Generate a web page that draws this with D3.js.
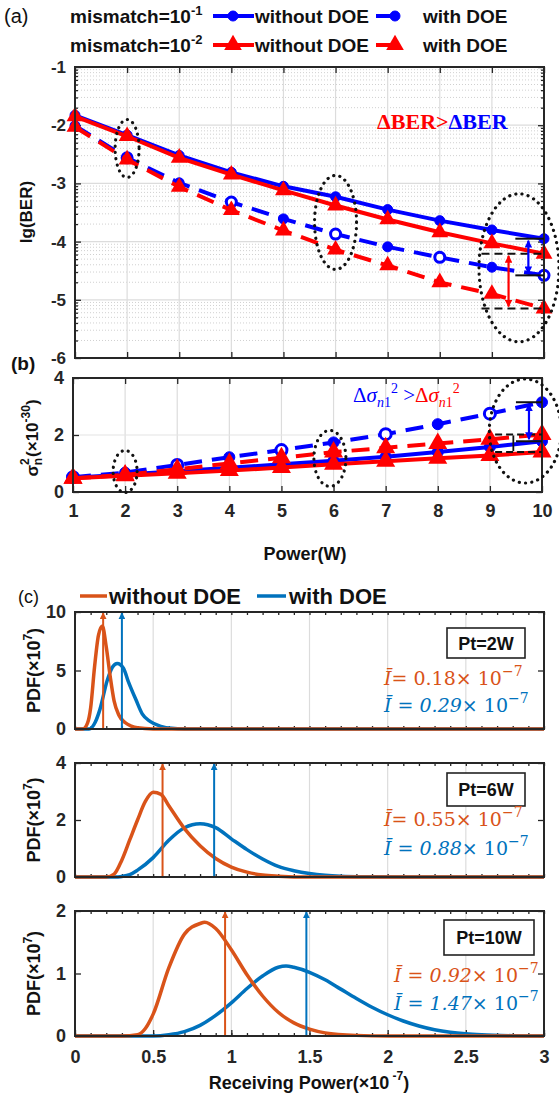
<!DOCTYPE html>
<html>
<head>
<meta charset="utf-8">
<title>BER, noise variance and received power PDF</title>
<script src="https://d3js.org/d3.v7.min.js"></script>
<style>
  body { margin: 0; background: white; }
  svg { display: block; background: white; }
  .tick text { font-family: "Liberation Sans", Arial, sans-serif; font-weight: bold; font-size: 17px; fill: #262626; }
  .tick line { stroke: #262626; stroke-width: 1.3; }
  .domain { display: none; }
</style>
</head>
<body>
<script>
// ---------- data ----------
var power = [1, 2, 3, 4, 5, 6, 7, 8, 9, 10];

// (a) lg(BER)
var berBlueNoDoe = [-1.83, -2.17, -2.52, -2.81, -3.05, -3.23, -3.45, -3.64, -3.80, -3.95];
var berBlueDoe   = [-2.01, -2.56, -2.99, -3.32, -3.61, -3.87, -4.09, -4.27, -4.44, -4.58];
var berRedNoDoe  = [-1.85, -2.19, -2.56, -2.85, -3.12, -3.38, -3.62, -3.84, -4.03, -4.21];
var berRedDoe    = [-2.03, -2.59, -3.06, -3.46, -3.81, -4.14, -4.41, -4.70, -4.90, -5.15];

// (b) sigma_n^2 (x1e-30)
var sigBlueNoDoe = [0.50, 0.61, 0.73, 0.85, 0.97, 1.10, 1.24, 1.40, 1.58, 1.78];
var sigBlueDoe   = [0.52, 0.68, 0.95, 1.22, 1.47, 1.74, 2.03, 2.38, 2.75, 3.15];
var sigRedNoDoe  = [0.48, 0.57, 0.66, 0.75, 0.86, 0.97, 1.08, 1.18, 1.28, 1.40];
var sigRedDoe    = [0.48, 0.60, 0.80, 1.00, 1.20, 1.40, 1.55, 1.70, 1.85, 2.02];

// (c) PDF curves, receiving power (x1e-7) vs PDF (x1e7)
var pt2OrangeX = [0, 0.05, 0.08, 0.1, 0.125, 0.15, 0.175, 0.2, 0.225, 0.25, 0.28, 0.32, 0.36, 0.4, 0.5, 0.6, 3];
var pt2OrangeY = [0, 0, 0.5, 1.8, 5.3, 8.0, 8.8, 7.0, 4.5, 2.4, 1.2, 0.55, 0.25, 0.1, 0.01, 0, 0];
var pt2BlueX   = [0, 0.09, 0.13, 0.16, 0.205, 0.24, 0.27, 0.31, 0.34, 0.39, 0.43, 0.48, 0.55, 0.62, 0.7, 0.8, 3];
var pt2BlueY   = [0, 0, 0.6, 1.7, 4.1, 5.3, 5.6, 5.2, 4.1, 2.5, 1.3, 0.65, 0.23, 0.06, 0.01, 0, 0];

var pt6OrangeX = [0, 0.2, 0.25, 0.3, 0.35, 0.4, 0.45, 0.5, 0.55, 0.6, 0.7, 0.8, 0.9, 1.0, 1.1, 1.2, 1.3, 1.5, 3];
var pt6OrangeY = [0, 0, 0.1, 0.6, 1.3, 2.0, 2.65, 2.97, 2.9, 2.5, 1.7, 1.1, 0.65, 0.35, 0.17, 0.07, 0.03, 0, 0];
var pt6BlueX   = [0, 0.25, 0.3, 0.35, 0.4, 0.5, 0.6, 0.7, 0.8, 0.9, 1.0, 1.1, 1.2, 1.3, 1.4, 1.5, 1.6, 1.7, 1.9, 2.1, 3];
var pt6BlueY   = [0, 0, 0.02, 0.08, 0.24, 0.68, 1.29, 1.73, 1.87, 1.73, 1.34, 0.96, 0.63, 0.37, 0.22, 0.12, 0.06, 0.03, 0.01, 0, 0];

var pt10OrangeX = [0, 0.3, 0.4, 0.45, 0.5, 0.6, 0.7, 0.8, 0.83, 0.9, 1.0, 1.1, 1.2, 1.3, 1.4, 1.5, 1.6, 1.8, 2.0, 3];
var pt10OrangeY = [0, 0, 0.02, 0.12, 0.35, 1.09, 1.63, 1.80, 1.82, 1.72, 1.38, 0.98, 0.64, 0.38, 0.21, 0.11, 0.05, 0.01, 0, 0];
var pt10BlueX   = [0, 0.5, 0.6, 0.7, 0.8, 0.9, 1.0, 1.1, 1.2, 1.3, 1.35, 1.4, 1.5, 1.6, 1.7, 1.8, 1.9, 2.0, 2.1, 2.2, 2.3, 2.4, 2.5, 2.6, 2.8, 3];
var pt10BlueY   = [0, 0, 0.02, 0.07, 0.17, 0.33, 0.53, 0.76, 0.96, 1.1, 1.12, 1.1, 1.02, 0.9, 0.75, 0.6, 0.46, 0.34, 0.24, 0.16, 0.1, 0.06, 0.035, 0.02, 0.005, 0];

// mean received power (arrows)
var meanOrange = [0.18, 0.56, 0.96];
var meanBlue   = [0.30, 0.89, 1.48];
var meanOrangeLabel = ["0.18", "0.55", "0.92"];
var meanBlueLabel   = ["0.29", "0.88", "1.47"];
var ptLabels = ["Pt=2W", "Pt=6W", "Pt=10W"];

// ---------- setup ----------
var FONT = "'Liberation Sans', Arial, sans-serif";
var SERIF = "'Liberation Serif', 'Times New Roman', serif";
var MATH = "'DejaVu Serif', 'Liberation Serif', serif";
var AX = "#262626";
var BLUE = "#0000ff", RED = "#ff0000", ORANGE = "#d95319", CBLUE = "#0072bd";

var svg = d3.select("body").append("svg").attr("width", 559).attr("height", 1095);
var defs = svg.append("defs");

function arrowDef(id, color) {
  defs.append("marker").attr("id", id)
    .attr("viewBox", "0 0 10 10").attr("refX", 9).attr("refY", 5)
    .attr("markerWidth", 3.5).attr("markerHeight", 3.5)
    .attr("orient", "auto-start-reverse")
    .append("path").attr("d", "M0,0 L10,5 L0,10 z").attr("fill", color);
}
arrowDef("arBlue", BLUE); arrowDef("arRed", RED);
arrowDef("arOrange", ORANGE); arrowDef("arCBlue", CBLUE);

// text with sub/superscript pieces
function addText(g, x, y, parts, o) {
  o = o || {};
  var t = g.append("text").attr("x", x).attr("y", y)
    .attr("font-family", o.family || FONT).attr("font-size", o.size || 17)
    .attr("font-weight", o.weight || "bold").attr("fill", o.fill || AX)
    .attr("text-anchor", o.anchor || "start");
  if (o.transform) t.attr("transform", o.transform);
  var shift = 0;
  parts.forEach(function(p) {
    if (typeof p === "string") p = {t: p};
    var s = t.append("tspan").text(p.t);
    var want = p.dy || 0;
    if (want !== shift) { s.attr("dy", want - shift); shift = want; }
    if (p.dx) s.attr("dx", p.dx);
    if (p.size) s.attr("font-size", p.size);
    if (p.fill) s.attr("fill", p.fill);
    if (p.italic) s.attr("font-style", "italic");
    if (p.family) s.attr("font-family", p.family);
    if (p.weight) s.attr("font-weight", p.weight);
  });
  return t;
}

function marker(g, type, x, y, color, size, hollow) {
  if (type === "circle") {
    g.append("circle").attr("cx", x).attr("cy", y).attr("r", size)
      .attr("fill", hollow ? "white" : color).attr("stroke", color)
      .attr("stroke-width", hollow ? 3 : 1);
  } else {
    g.append("path").attr("d", d3.symbol(d3.symbolTriangle, size * size * 3.2)())
      .attr("transform", "translate(" + x + "," + y + ")").attr("fill", color);
  }
}

function series(g, xs, ys, vals, color, dashed, type, msize, hollowTest) {
  var line = d3.line().x(function(d, i) { return xs(power[i]); }).y(function(d) { return ys(d); });
  g.append("path").datum(vals).attr("d", line).attr("fill", "none")
    .attr("stroke", color).attr("stroke-width", 4)
    .attr("stroke-dasharray", dashed ? "18,10" : null);
  vals.forEach(function(v, i) {
    marker(g, type, xs(power[i]), ys(v), color, msize, hollowTest ? hollowTest(power[i]) : false);
  });
}

function ring(g, cx, cy, rx, ry) {
  g.append("ellipse").attr("cx", cx).attr("cy", cy).attr("rx", rx).attr("ry", ry)
    .attr("fill", "none").attr("stroke", "#111").attr("stroke-width", 3.2)
    .attr("stroke-linecap", "round").attr("stroke-dasharray", "0.1,6.2");
}

// ---------- panel (a) ----------
var xA = d3.scaleLinear().domain([1, 10]).range([75, 544]);
var yA = d3.scaleLinear().domain([-6, -1]).range([358, 67]);
var gA = svg.append("g");

// minor grid (log-style subdivisions of each decade)
var minorA = [];
for (var d = -6; d < -1; d++) for (var k = 2; k <= 9; k++) minorA.push(d + Math.log10(k));
gA.selectAll(".minA").data(minorA).enter().append("line")
  .attr("x1", xA(1)).attr("x2", xA(10)).attr("y1", yA).attr("y2", yA)
  .attr("stroke", "#d0d0d0").attr("stroke-width", 1).attr("stroke-dasharray", "1,2");
gA.selectAll(".gyA").data([-5, -4, -3, -2]).enter().append("line")
  .attr("x1", xA(1)).attr("x2", xA(10)).attr("y1", yA).attr("y2", yA)
  .attr("stroke", "#dcdcdc").attr("stroke-width", 1.2);
gA.selectAll(".gxA").data(power.slice(1, 9)).enter().append("line")
  .attr("x1", xA).attr("x2", xA).attr("y1", yA(-6)).attr("y2", yA(-1))
  .attr("stroke", "#dcdcdc").attr("stroke-width", 1.2);

gA.append("g").attr("transform", "translate(" + xA(1) + ",0)")
  .call(d3.axisLeft(yA).tickValues([-6, -5, -4, -3, -2, -1]).tickFormat(String)
    .tickSizeInner(-6).tickSizeOuter(0).tickPadding(9));
gA.append("g").attr("transform", "translate(" + xA(1) + ",0)")
  .call(d3.axisLeft(yA).tickValues(minorA).tickFormat("").tickSizeInner(-3).tickSizeOuter(0));
gA.append("g").attr("transform", "translate(" + xA(10) + ",0)")
  .call(d3.axisRight(yA).tickValues([-6, -5, -4, -3, -2, -1]).tickFormat("").tickSizeInner(-6).tickSizeOuter(0));
gA.append("g").attr("transform", "translate(" + xA(10) + ",0)")
  .call(d3.axisRight(yA).tickValues(minorA).tickFormat("").tickSizeInner(-3).tickSizeOuter(0));
gA.append("g").attr("transform", "translate(0," + yA(-1) + ")")
  .call(d3.axisTop(xA).tickValues(power).tickFormat("").tickSizeInner(-6).tickSizeOuter(0));
gA.append("g").attr("transform", "translate(0," + yA(-6) + ")")
  .call(d3.axisBottom(xA).tickValues(power).tickFormat("").tickSizeInner(-6).tickSizeOuter(0));

series(gA, xA, yA, berBlueNoDoe, BLUE, false, "circle", 5);
series(gA, xA, yA, berBlueDoe, BLUE, true, "circle", 5, function(p) { return p % 2 === 0; });
series(gA, xA, yA, berRedNoDoe, RED, false, "tri", 6.2);
series(gA, xA, yA, berRedDoe, RED, true, "tri", 6.2);

gA.append("rect").attr("x", xA(1)).attr("y", yA(-1))
  .attr("width", xA(10) - xA(1)).attr("height", yA(-6) - yA(-1))
  .attr("fill", "none").attr("stroke", AX).attr("stroke-width", 2);

// bracket lines and double arrows at P = 10
gA.selectAll(".hbA").data([berBlueNoDoe[9], berBlueDoe[9]]).enter().append("line")
  .attr("x1", xA(9.45)).attr("x2", xA(10)).attr("y1", yA).attr("y2", yA)
  .attr("stroke", "#111").attr("stroke-width", 2);
gA.selectAll(".hrA").data([berRedNoDoe[9], berRedDoe[9]]).enter().append("line")
  .attr("x1", xA(8.8)).attr("x2", xA(10)).attr("y1", yA).attr("y2", yA)
  .attr("stroke", "#111").attr("stroke-width", 2).attr("stroke-dasharray", "8,5");
gA.append("line").attr("x1", xA(9.7)).attr("x2", xA(9.7))
  .attr("y1", yA(berBlueNoDoe[9]) + 2).attr("y2", yA(berBlueDoe[9]) - 2)
  .attr("stroke", BLUE).attr("stroke-width", 2.2)
  .attr("marker-start", "url(#arBlue)").attr("marker-end", "url(#arBlue)");
gA.append("line").attr("x1", xA(9.32)).attr("x2", xA(9.32))
  .attr("y1", yA(berRedNoDoe[9]) + 2).attr("y2", yA(berRedDoe[9]) - 2)
  .attr("stroke", RED).attr("stroke-width", 2.2)
  .attr("marker-start", "url(#arRed)").attr("marker-end", "url(#arRed)");

ring(gA, xA(2), yA(-2.40), 12, 29);
ring(gA, xA(6), yA(-3.67), 21, 47);
ring(gA, xA(9.52), yA(-4.45), 40, 74);

addText(gA, 377, 129, [{t: "ΔBER>", fill: RED}, {t: "ΔBER", fill: BLUE}],
  {family: SERIF, size: 22});

// legend (a)
addText(svg, 4, 23, ["(a)"], {size: 20, weight: "normal", fill: "#111"});
var legRows = [
  {label: "10", sup: "-1", color: BLUE, type: "circle", y: 16},
  {label: "10", sup: "-2", color: RED, type: "tri", y: 45}
];
legRows.forEach(function(r) {
  addText(svg, 70, r.y + 7, ["mismatch=" + r.label, {t: r.sup, dy: -8, size: 13}],
    {size: 19, fill: "#111"});
  svg.append("line").attr("x1", 213).attr("x2", 254).attr("y1", r.y).attr("y2", r.y)
    .attr("stroke", r.color).attr("stroke-width", 4);
  marker(svg, r.type, 233, r.y, r.color, r.type === "circle" ? 5 : 6.5);
  addText(svg, 255, r.y + 7, ["without DOE"], {size: 19, fill: "#111"});
  svg.append("line").attr("x1", 376).attr("x2", 396).attr("y1", r.y).attr("y2", r.y)
    .attr("stroke", r.color).attr("stroke-width", 4);
  marker(svg, r.type, 395, r.y, r.color, r.type === "circle" ? 5 : 6.5);
  addText(svg, 423, r.y + 7, ["with DOE"], {size: 19, fill: "#111"});
});

addText(svg, 32, 212, ["lg(BER)"],
  {size: 17, anchor: "middle", transform: "rotate(-90,32,212)", fill: "#111"});

// ---------- panel (b) ----------
var xB = d3.scaleLinear().domain([1, 10]).range([73, 542]);
var yB = d3.scaleLinear().domain([0, 4]).range([492, 378]);
var gB = svg.append("g");

gB.selectAll(".gxB").data(power.slice(1, 9)).enter().append("line")
  .attr("x1", xB).attr("x2", xB).attr("y1", yB(0)).attr("y2", yB(4))
  .attr("stroke", "#dcdcdc").attr("stroke-width", 1.2);
gB.append("line").attr("x1", xB(1)).attr("x2", xB(10)).attr("y1", yB(2)).attr("y2", yB(2))
  .attr("stroke", "#e4e4e4").attr("stroke-width", 1.2);

gB.append("g").attr("transform", "translate(" + xB(1) + ",0)")
  .call(d3.axisLeft(yB).tickValues([0, 2, 4]).tickFormat(String)
    .tickSizeInner(-6).tickSizeOuter(0).tickPadding(9))
  .selectAll("text").style("font-size", "18px");
gB.append("g").attr("transform", "translate(" + xB(10) + ",0)")
  .call(d3.axisRight(yB).tickValues([0, 2, 4]).tickFormat("").tickSizeInner(-6).tickSizeOuter(0));
gB.append("g").attr("transform", "translate(0," + yB(0) + ")")
  .call(d3.axisBottom(xB).tickValues(power).tickFormat(String)
    .tickSizeInner(-6).tickSizeOuter(0).tickPadding(12))
  .selectAll("text").style("font-size", "18px");
gB.append("g").attr("transform", "translate(0," + yB(4) + ")")
  .call(d3.axisTop(xB).tickValues(power).tickFormat("").tickSizeInner(-6).tickSizeOuter(0));

series(gB, xB, yB, sigBlueDoe, BLUE, true, "circle", 5.5, function(p) { return p % 2 === 1; });
series(gB, xB, yB, sigBlueNoDoe, BLUE, false, "circle", 5.5);
series(gB, xB, yB, sigRedDoe, RED, true, "tri", 7);
series(gB, xB, yB, sigRedNoDoe, RED, false, "tri", 7);

gB.append("rect").attr("x", xB(1)).attr("y", yB(4))
  .attr("width", xB(10) - xB(1)).attr("height", yB(0) - yB(4))
  .attr("fill", "none").attr("stroke", AX).attr("stroke-width", 2);

gB.selectAll(".hbB").data([sigBlueDoe[9], sigBlueNoDoe[9]]).enter().append("line")
  .attr("x1", xB(9.5)).attr("x2", xB(10)).attr("y1", yB).attr("y2", yB)
  .attr("stroke", "#111").attr("stroke-width", 2);
gB.selectAll(".hrB").data([sigRedDoe[9], sigRedNoDoe[9]]).enter().append("line")
  .attr("x1", xB(9.1)).attr("x2", xB(10)).attr("y1", yB).attr("y2", yB)
  .attr("stroke", "#111").attr("stroke-width", 2).attr("stroke-dasharray", "7,4");
gB.append("line").attr("x1", xB(9.75)).attr("x2", xB(9.75))
  .attr("y1", yB(sigBlueDoe[9]) + 2).attr("y2", yB(sigBlueNoDoe[9]) - 2)
  .attr("stroke", BLUE).attr("stroke-width", 2.2)
  .attr("marker-start", "url(#arBlue)").attr("marker-end", "url(#arBlue)");
gB.append("line").attr("x1", xB(9.45)).attr("x2", xB(9.45))
  .attr("y1", yB(sigRedDoe[9]) + 1).attr("y2", yB(sigRedNoDoe[9]) - 1)
  .attr("stroke", "#111").attr("stroke-width", 1.8);

ring(gB, xB(2), yB(0.72), 12, 21);
ring(gB, xB(5.93), yB(1.18), 16, 28);
ring(gB, xB(9.68), yB(2.14), 36, 52);

addText(gB, 353, 402, [
  {t: "Δ", fill: BLUE}, {t: "σ", fill: BLUE, italic: true},
  {t: "n", fill: BLUE, italic: true, size: 14, dy: 5}, {t: "1", fill: BLUE, size: 14, dy: 5},
  {t: "2", fill: BLUE, size: 14, dy: -9}, {t: " >", fill: BLUE},
  {t: "Δ", fill: RED}, {t: "σ", fill: RED, italic: true},
  {t: "n", fill: RED, italic: true, size: 14, dy: 5}, {t: "1", fill: RED, size: 14, dy: 5},
  {t: "2", fill: RED, size: 14, dy: -9}
], {family: SERIF, size: 21, weight: "normal"});

addText(svg, 11, 370, ["(b)"], {size: 19, fill: "#111"});
addText(svg, 38, 438, [
  "σ", {t: "2", size: 12, dy: -9}, {t: "n", size: 12, dy: 4, dx: -7},
  {t: "(×10", dx: 1}, {t: "-30", size: 12, dy: -8}, ")"
], {size: 17, anchor: "middle", transform: "rotate(-90,38,438)", fill: "#111"});
addText(svg, 305, 560, ["Power(W)"], {size: 18, anchor: "middle", fill: "#111"});

// ---------- panel (c) ----------
var xC = d3.scaleLinear().domain([0, 3]).range([75, 544]);
var cPanels = [
  {top: 612, bottom: 729, ymax: 10, ticks: [0, 5, 10], ox: pt2OrangeX, oy: pt2OrangeY, bx: pt2BlueX, by: pt2BlueY,
   box: [447, 628, 78, 30], fo: 685, fb: 712, fx: 384},
  {top: 763, bottom: 877, ymax: 4, ticks: [0, 2, 4], ox: pt6OrangeX, oy: pt6OrangeY, bx: pt6BlueX, by: pt6BlueY,
   box: [447, 773, 78, 33], fo: 826, fb: 855, fx: 384},
  {top: 911, bottom: 1036, ymax: 2, ticks: [0, 1, 2], ox: pt10OrangeX, oy: pt10OrangeY, bx: pt10BlueX, by: pt10BlueY,
   box: [444, 920, 90, 35], fo: 982, fb: 1010, fx: 394}
];
var gridC = [0.5, 1, 1.5, 2, 2.5];
var minorC = d3.range(0, 31).map(function(i) { return i / 10; });

cPanels.forEach(function(p, idx) {
  var g = svg.append("g");
  var y = d3.scaleLinear().domain([0, p.ymax]).range([p.bottom, p.top]);
  g.selectAll(".gx").data(gridC).enter().append("line")
    .attr("x1", xC).attr("x2", xC).attr("y1", p.top).attr("y2", p.bottom)
    .attr("stroke", "#dcdcdc").attr("stroke-width", 1.2);

  g.append("g").attr("transform", "translate(" + xC(0) + ",0)")
    .call(d3.axisLeft(y).tickValues(p.ticks).tickFormat(String)
      .tickSizeInner(-6).tickSizeOuter(0).tickPadding(9))
    .selectAll("text").style("font-size", "18px");
  g.append("g").attr("transform", "translate(" + xC(3) + ",0)")
    .call(d3.axisRight(y).tickValues(p.ticks).tickFormat("").tickSizeInner(-6).tickSizeOuter(0));
  g.append("g").attr("transform", "translate(0," + p.top + ")")
    .call(d3.axisTop(xC).tickValues(minorC).tickFormat("").tickSizeInner(-3).tickSizeOuter(0));
  g.append("g").attr("transform", "translate(0," + p.bottom + ")")
    .call(d3.axisBottom(xC).tickValues(minorC).tickFormat("").tickSizeInner(-3).tickSizeOuter(0));
  if (idx === 2) {
    g.append("g").attr("transform", "translate(0," + p.bottom + ")")
      .call(d3.axisBottom(xC).tickValues([0, 0.5, 1, 1.5, 2, 2.5, 3]).tickFormat(String)
        .tickSizeInner(-6).tickSizeOuter(0).tickPadding(14))
      .selectAll("text").style("font-size", "18px");
  }

  var line = d3.line().curve(d3.curveMonotoneX)
    .x(function(d) { return xC(d[0]); }).y(function(d) { return y(d[1]); });
  g.append("path").datum(d3.zip(p.bx, p.by)).attr("d", line).attr("fill", "none")
    .attr("stroke", CBLUE).attr("stroke-width", 3.5);
  g.append("path").datum(d3.zip(p.ox, p.oy)).attr("d", line).attr("fill", "none")
    .attr("stroke", ORANGE).attr("stroke-width", 3.5);

  // mean arrows
  g.append("line").attr("x1", xC(meanOrange[idx])).attr("x2", xC(meanOrange[idx]))
    .attr("y1", y(0)).attr("y2", y(p.ymax) + 1).attr("stroke", ORANGE).attr("stroke-width", 2)
    .attr("marker-end", "url(#arOrange)");
  g.append("line").attr("x1", xC(meanBlue[idx])).attr("x2", xC(meanBlue[idx]))
    .attr("y1", y(0)).attr("y2", y(p.ymax) + 1).attr("stroke", CBLUE).attr("stroke-width", 2)
    .attr("marker-end", "url(#arCBlue)");

  g.append("rect").attr("x", xC(0)).attr("y", p.top)
    .attr("width", xC(3) - xC(0)).attr("height", p.bottom - p.top)
    .attr("fill", "none").attr("stroke", AX).attr("stroke-width", 2);

  g.append("rect").attr("x", p.box[0]).attr("y", p.box[1]).attr("width", p.box[2]).attr("height", p.box[3])
    .attr("fill", "white").attr("stroke", "#222").attr("stroke-width", 1.6);
  addText(g, p.box[0] + p.box[2] / 2, p.box[1] + p.box[3] / 2 + 6.5, [ptLabels[idx]],
    {size: 18, anchor: "middle", fill: "#111"});

  addText(g, p.fx, p.fo, [
    {t: "Ī", italic: true}, {t: idx === 2 ? " = " : "= "},
    {t: meanOrangeLabel[idx], italic: idx === 2}, "× 10", {t: "−7", size: 14, dy: -9}
  ], {family: MATH, size: 19, weight: "normal", fill: ORANGE});
  addText(g, p.fx, p.fb, [
    {t: "Ī", italic: true}, " = ", {t: meanBlueLabel[idx], italic: true}, "× 10",
    {t: "−7", size: 14, dy: -9}
  ], {family: MATH, size: 19, weight: "normal", fill: CBLUE});

  var cy = (p.top + p.bottom) / 2;
  addText(svg, 40, cy, ["PDF(×10", {t: "7", size: 12, dy: -8}, ")"],
    {size: 18, anchor: "middle", transform: "rotate(-90,40," + cy + ")", fill: "#111"});
});

// legend (c)
addText(svg, 18, 603, ["(c)"], {size: 18, weight: "normal", fill: "#111"});
svg.append("line").attr("x1", 80).attr("x2", 107).attr("y1", 596).attr("y2", 596)
  .attr("stroke", ORANGE).attr("stroke-width", 3.5);
addText(svg, 109, 604, ["without DOE"], {size: 22, fill: "#111"});
svg.append("line").attr("x1", 257).attr("x2", 286).attr("y1", 596).attr("y2", 596)
  .attr("stroke", CBLUE).attr("stroke-width", 3.5);
addText(svg, 289, 604, ["with DOE"], {size: 22, fill: "#111"});

addText(svg, 309, 1089, ["Receiving Power(×10", {t: " -7", size: 12, dy: -9}, {t: ")", dy: 0}],
  {size: 18, anchor: "middle", fill: "#111"});
</script>
</body>
</html>
